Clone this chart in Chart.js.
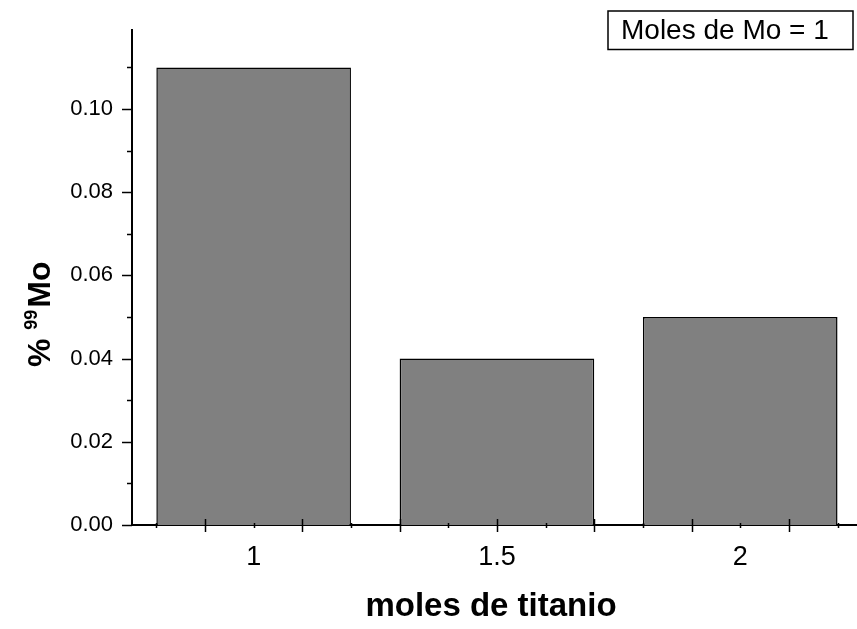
<!DOCTYPE html>
<html>
<head>
<meta charset="utf-8">
<script src="https://cdn.jsdelivr.net/npm/chart.js@4.4.1/dist/chart.umd.min.js"></script>
<style>
  html, body { margin: 0; padding: 0; background: #fff; overflow: hidden; }
  #wrap { width: 857px; height: 629px; position: relative; }
</style>
</head>
<body>
<div id="wrap"><canvas id="chart" width="857" height="629"></canvas></div>
<script>
// data
const moleValues = [1, 1.5, 2];
const moleLabels = ['1', '1.5', '2'];
const moPercent = [0.11, 0.04, 0.05];
const seriesLabel = 'Moles de Mo = 1';
const xTitle = 'moles de titanio';
const yTitleParts = ['%', '99', 'Mo'];

const FONT = '"Liberation Sans", Arial, Helvetica, sans-serif';
const X_STEP = 0.1;
// chart.js sizes bars on the smallest gap, which here is the tick step
const dataGap = moleValues[1] - moleValues[0];

// --- tick marks, axis titles and the label box ---
const decorPlugin = {
    id: 'decor',
    afterDraw(chart) {
        const ctx = chart.ctx;
        const xs = chart.scales.x;
        const ys = chart.scales.y;
        const area = chart.chartArea;

        ctx.save();
        ctx.strokeStyle = '#000';
        ctx.lineWidth = 1.5;

        // y ticks: majors on scale ticks, minors in between
        const yt = ys.ticks.map(t => t.value);
        const step = yt[1] - yt[0];
        yt.forEach(v => {
            const py = Math.round(ys.getPixelForValue(v)) + 0.5;
            ctx.beginPath();
            ctx.moveTo(area.left - 10, py);
            ctx.lineTo(area.left, py);
            ctx.stroke();
            const m = v + step / 2;
            if (m <= ys.max) {
                const pm = Math.round(ys.getPixelForValue(m)) + 0.5;
                ctx.beginPath();
                ctx.moveTo(area.left - 5, pm);
                ctx.lineTo(area.left, pm);
                ctx.stroke();
            }
        });

        // x ticks: odd tenths long, even tenths short
        xs.ticks.forEach(t => {
            const px = Math.round(xs.getPixelForValue(t.value)) + 0.5;
            const major = Math.round(t.value * 10) % 2 === 1;
            ctx.beginPath();
            ctx.moveTo(px, area.bottom - (major ? 6 : 2));
            ctx.lineTo(px, area.bottom + (major ? 7 : 3));
            ctx.stroke();
        });

        // x title
        ctx.fillStyle = '#000';
        ctx.font = 'bold 33px ' + FONT;
        ctx.textAlign = 'center';
        ctx.textBaseline = 'alphabetic';
        ctx.fillText(xTitle, 491, 616);

        // y title, rotated, with superscript
        ctx.translate(50, 367);
        ctx.rotate(-Math.PI / 2);
        ctx.textAlign = 'left';
        ctx.font = 'bold 32px ' + FONT;
        let cx = 0;
        ctx.fillText(yTitleParts[0] + ' ', cx, 0);
        cx += ctx.measureText(yTitleParts[0] + ' ').width;
        ctx.font = 'bold 18px ' + FONT;
        ctx.fillText(yTitleParts[1], cx, -13);
        cx += ctx.measureText(yTitleParts[1]).width + 2;
        ctx.font = 'bold 32px ' + FONT;
        ctx.fillText(yTitleParts[2], cx, 0);
        ctx.restore();

        // label box top right
        ctx.save();
        ctx.strokeStyle = '#000';
        ctx.lineWidth = 1.5;
        ctx.strokeRect(608, 11, 245, 38.5);
        ctx.fillStyle = '#000';
        ctx.font = '28px ' + FONT;
        ctx.textBaseline = 'alphabetic';
        ctx.fillText(chart.data.datasets[0].label, 621, 39);
        ctx.restore();
    }
};

new Chart(document.getElementById('chart'), {
    type: 'bar',
    data: {
        datasets: [{
            label: seriesLabel,
            data: moleValues.map((m, i) => ({ x: m, y: moPercent[i] })),
            backgroundColor: '#808080',
            borderColor: '#000',
            borderWidth: 1.5,
            categoryPercentage: dataGap / X_STEP,
            barPercentage: 0.8
        }]
    },
    options: {
        responsive: false,
        animation: false,
        devicePixelRatio: 1,
        layout: { padding: { top: 30, right: 0, left: 0, bottom: 0 } },
        plugins: {
            legend: { display: false },
            tooltip: { enabled: false }
        },
        scales: {
            x: {
                type: 'linear',
                offset: false,
                min: 0.75,
                max: 2.24,
                grid: { display: false, drawTicks: true, tickLength: 10 },
                border: { display: true, color: '#000', width: 2 },
                ticks: {
                    stepSize: X_STEP,
                    includeBounds: false,
                    autoSkip: false,
                    maxRotation: 0,
                    padding: 6,
                    color: '#000',
                    font: { family: FONT, size: 27 },
                    callback: (value) => {
                        const i = moleValues.findIndex(m => Math.abs(m - value) < 1e-6);
                        return i >= 0 ? moleLabels[i] : '';
                    }
                },
                afterFit: (scale) => { scale.height = 104; }
            },
            y: {
                min: 0,
                max: 0.119,
                grid: { display: false, drawTicks: true, tickLength: 10 },
                border: { display: true, color: '#000', width: 2 },
                ticks: {
                    stepSize: 0.02,
                    includeBounds: false,
                    padding: 9,
                    color: '#000',
                    font: { family: FONT, size: 22 },
                    callback: (value) => value.toFixed(2)
                },
                afterFit: (scale) => { scale.width = 132; }
            }
        }
    },
    plugins: [decorPlugin]
});
</script>
</body>
</html>
